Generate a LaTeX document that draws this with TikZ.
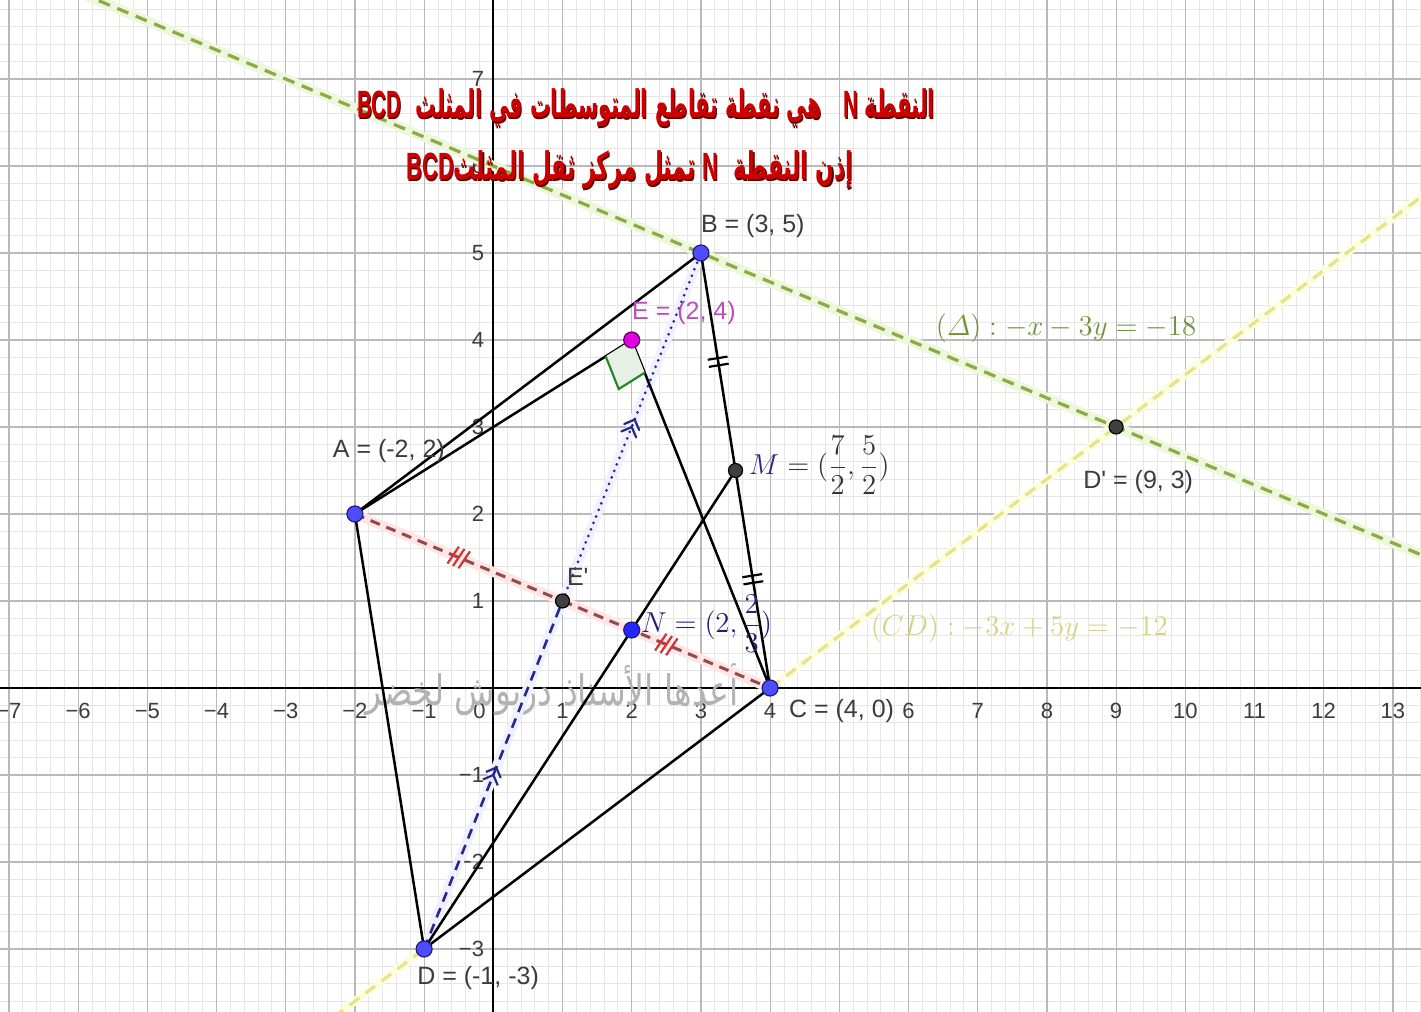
\documentclass[tikz,border=0pt]{standalone}
\usepackage{amsmath}
\usepackage{graphicx}
\usepackage{fontspec}
\setmainfont{Liberation Sans}
\newfontfamily\plainsans{Liberation Sans}
\newfontfamily\arabicfont[Script=Arabic]{DejaVu Sans}
\TeXXeTstate=1
\usetikzlibrary{calc,decorations.markings}
\definecolor{gridminor}{RGB}{230,230,230}
\definecolor{gridmajor}{RGB}{185,185,185}
\definecolor{ptblue}{RGB}{77,77,255}
\definecolor{ptedge}{RGB}{30,30,120}
\definecolor{deltacol}{RGB}{140,170,70}
\definecolor{deltalab}{RGB}{115,145,60}
\definecolor{cdcol}{RGB}{228,228,140}
\definecolor{cdlab}{RGB}{212,212,130}
\definecolor{accol}{RGB}{145,75,75}
\definecolor{tickred}{RGB}{215,50,50}
\definecolor{navy}{RGB}{40,40,140}
\definecolor{labgray}{RGB}{60,60,60}
\definecolor{emag}{RGB}{225,0,225}
\definecolor{elab}{RGB}{185,80,185}
\definecolor{titlered}{RGB}{205,0,0}
\definecolor{titledark}{RGB}{90,0,0}
\definecolor{rightgreen}{RGB}{40,135,40}
\tikzset{
  minorgrid/.style={draw=gridminor, line width=0.4pt},
  majorgrid/.style={draw=gridmajor, line width=0.6pt},
  axisline/.style={draw=black, line width=1pt},
  ticklab/.style={font=\plainsans\fontsize{11}{13}\selectfont, text=labgray, inner sep=1pt},
  seg/.style={draw=black, line width=1.25pt},
  bluept/.style={circle, fill=ptblue, draw=ptedge, line width=0.6pt, minimum size=8pt, inner sep=0pt},
  darkpt/.style={circle, fill=black!75, draw=black, line width=0.6pt, minimum size=7pt, inner sep=0pt},
  ptlab/.style={font=\plainsans\fontsize{12.5}{15}\selectfont, text=labgray, inner sep=1pt},
  dbltick/.style={postaction={decorate, decoration={markings, mark=at position 0.5 with {\draw[black, line width=1.1pt, solid] (-1.8pt,-5pt)--(-1.8pt,5pt) (1.8pt,-5pt)--(1.8pt,5pt);}}}},
  tripletick/.style={postaction={decorate, decoration={markings, mark=at position 0.5 with {\draw[tickred, line width=1.1pt, solid] (-4pt,-5pt)--(-2pt,5pt) (-1pt,-5pt)--(1pt,5pt) (2pt,-5pt)--(4pt,5pt);}}}},
  dblarrow/.style={postaction={decorate, decoration={markings, mark=at position 0.5 with {\draw[navy, line width=1.1pt, solid] (-4pt,-4pt)--(0pt,0pt)--(-4pt,4pt) (0pt,-4pt)--(4pt,0pt)--(0pt,4pt);}}}},
  titletxt/.style={inner sep=1pt, text=titlered},
  cdline/.style={line width=1.6pt, cdcol, dash pattern=on 6pt off 4pt},
  cdhalo/.style={line width=4pt, yellow!12},
}
\newcommand{\titleA}{\arabicfont\bfseries\fontsize{19}{22}\selectfont\scalebox{0.537}[1]{\beginR النقطة \beginL{\plainsans\bfseries N}\endL{}\ \ \ هي نقطة تقاطع المتوسطات في المثلث \ \beginL{\plainsans\bfseries BCD}\endL\endR}}
\newcommand{\titleB}{\arabicfont\bfseries\fontsize{19}{22}\selectfont\scalebox{0.573}[1]{\beginR إذن النقطة \ \beginL{\plainsans\bfseries N}\endL{} تمثل مركز ثقل المثلث\beginL{\plainsans\bfseries BCD}\endL\endR}}
\begin{document}
\begin{tikzpicture}[x=34.6pt,y=43.5pt]
\useasboundingbox (-7.129,-3.724) rectangle (13.406,7.908);
\fill[white] (-7.129,-3.724) rectangle (13.406,7.908);
\clip (-7.129,-3.724) rectangle (13.406,7.908);
% grid
\draw[minorgrid] (-7.2,-3.8) grid[xstep=0.2,ystep=0.2] (13.6,8);
\draw[majorgrid] (-7.2,-3.8) grid[xstep=1,ystep=1] (13.6,8);
% axes
\draw[axisline] (-7.2,0) -- (13.5,0);
\draw[axisline] (0,-3.8) -- (0,8);
\foreach \x/\l in {-7/−7,-6/−6,-5/−5,-4/−4,-3/−3,-2/−2,-1/−1,1/1,2/2,3/3,4/4,6/6,7/7,8/8,9/9,10/10,11/11,12/12,13/13}
  \node[ticklab] (xl\x) at (\x,-0.26) {\l};
\node[ticklab] (xl0) at (-0.2,-0.26) {0};
\foreach \y/\l in {7/7,6/6,5/5,4/4,3/3,2/2,1/1,-1/−1,-2/−2,-3/−3}
  \node[ticklab, anchor=east] (yl\y) at (-0.1,\y) {\l};
% points
\coordinate (A) at (-2,2);
\coordinate (B) at (3,5);
\coordinate (C) at (4,0);
\coordinate (D) at (-1,-3);
\coordinate (E) at (2,4);
\coordinate (Ep) at (1,1);
\coordinate (M) at (3.5,2.5);
\coordinate (N) at (2,0.6667);
\coordinate (Dp) at (9,3);
% infinite lines
\coordinate (dl1) at (-7.3,8.433);
\coordinate (dl2) at (13.6,1.467);
\coordinate (cd1) at (-3,-4.2);
\coordinate (cd2) at (13.6,5.76);
\draw[line width=5pt, yellow!50!green!14] (dl1) -- (dl2);
\draw[line width=1.6pt, deltacol, dash pattern=on 6pt off 4pt] (dl1) -- (dl2);
\draw[cdhalo] (cd1) -- (D);
\draw[cdhalo] (C) -- (cd2);
\draw[cdline] (cd1) -- (D);
\draw[cdline] (C) -- (cd2);
% watermark
\node[text=black!30, font=\arabicfont\fontsize{21}{24}\selectfont, inner sep=0pt] (wm) at (0.85,-0.02) {\scalebox{0.79}[1]{\beginR أعدها الأستاذ دريوش لخضر\endR}};
% halos
\draw[line width=5pt, red!10] (A) -- (C);
\draw[line width=5pt, blue!6] (D) -- (B);
% segments
\draw[seg] (A) -- (B);
\draw[seg] (A) -- (E);
\draw[seg] (A) -- (D);
\draw[seg, dbltick] (B) -- (M);
\draw[seg, dbltick] (M) -- (C);
\draw[seg] (E) -- (C);
\draw[seg] (D) -- (C);
\draw[seg] (D) -- (M);
\draw[accol, line width=1.5pt, dash pattern=on 5pt off 3.5pt, tripletick] (A) -- (Ep);
\draw[accol, line width=1.5pt, dash pattern=on 5pt off 3.5pt, tripletick] (Ep) -- (C);
\draw[navy, line width=1.3pt, dash pattern=on 5pt off 3.5pt, dblarrow] (D) -- (Ep);
\draw[navy, line width=1.5pt, dash pattern=on 0pt off 3.5pt, line cap=round, dblarrow] (Ep) -- (B);
% right angle at E
\coordinate (rq1) at (1.624,3.812);
\coordinate (rq2) at (1.812,3.436);
\coordinate (rq3) at (2.188,3.624);
\fill[rightgreen!12] (E) -- (rq1) -- (rq2) -- (rq3) -- cycle;
\draw[rightgreen, line width=1.1pt] (rq1) -- (rq2) -- (rq3);
% point markers
\node[bluept] (pA) at (A) {};
\node[bluept] (pB) at (B) {};
\node[bluept] (pC) at (C) {};
\node[bluept] (pD) at (D) {};
\node[circle, fill=emag, draw=black!60!emag, line width=0.6pt, minimum size=8pt, inner sep=0pt] (pE) at (E) {};
\node[darkpt] (pEp) at (Ep) {};
\node[darkpt] (pM) at (M) {};
\node[bluept, fill=blue!85] (pN) at (N) {};
\node[darkpt] (pDp) at (Dp) {};
% labels
\node[ptlab] (lB) at (3.75,5.31) {B = (3, 5)};
\node[ptlab, text=elab] (lE) at (2.755,4.31) {E = (2, 4)};
\node[ptlab] (lA) at (-1.51,2.72) {A = (-2, 2)};
\node[ptlab] (lEp) at (1.22,1.28) {E'};
\node[ptlab, anchor=west] (lC) at (4.24,-0.26) {C = (4, 0)};
\node[ptlab] (lD) at (-0.22,-3.33) {D = (-1, -3)};
\node[ptlab] (lDp) at (9.32,2.37) {D' = (9, 3)};
\node[anchor=west, inner sep=1pt, font=\fontsize{15}{18}\selectfont, text=black!80] (lM) at (3.66,2.56) {$\color{navy}M\color{black!80} = (\displaystyle\frac{7}{2}, \frac{5}{2})$};
\node[anchor=west, inner sep=1pt, font=\fontsize{15}{18}\selectfont, text=navy!80!black] (lN) at (2.1,0.74) {$N = (2, \displaystyle\frac{2}{3})$};
\node[anchor=west, inner sep=1pt, font=\fontsize{14}{17}\selectfont, text=deltalab] (lDelta) at (6.36,4.14) {$(\varDelta) : -x - 3y = -18$};
\node[anchor=west, inner sep=1pt, font=\fontsize{14}{17}\selectfont, text=cdlab] (lCD) at (5.42,0.69) {$(CD) : -3x + 5y = -12$};
% titles
\node[titletxt, text=titledark] (t1s) at (2.222,6.652) {\titleA};
\node[titletxt] (t1) at (2.207,6.667) {\titleA};
\node[titletxt, text=titledark] (t2s) at (1.990,5.939) {\titleB};
\node[titletxt] (t2) at (1.975,5.954) {\titleB};
\end{tikzpicture}
\end{document}
